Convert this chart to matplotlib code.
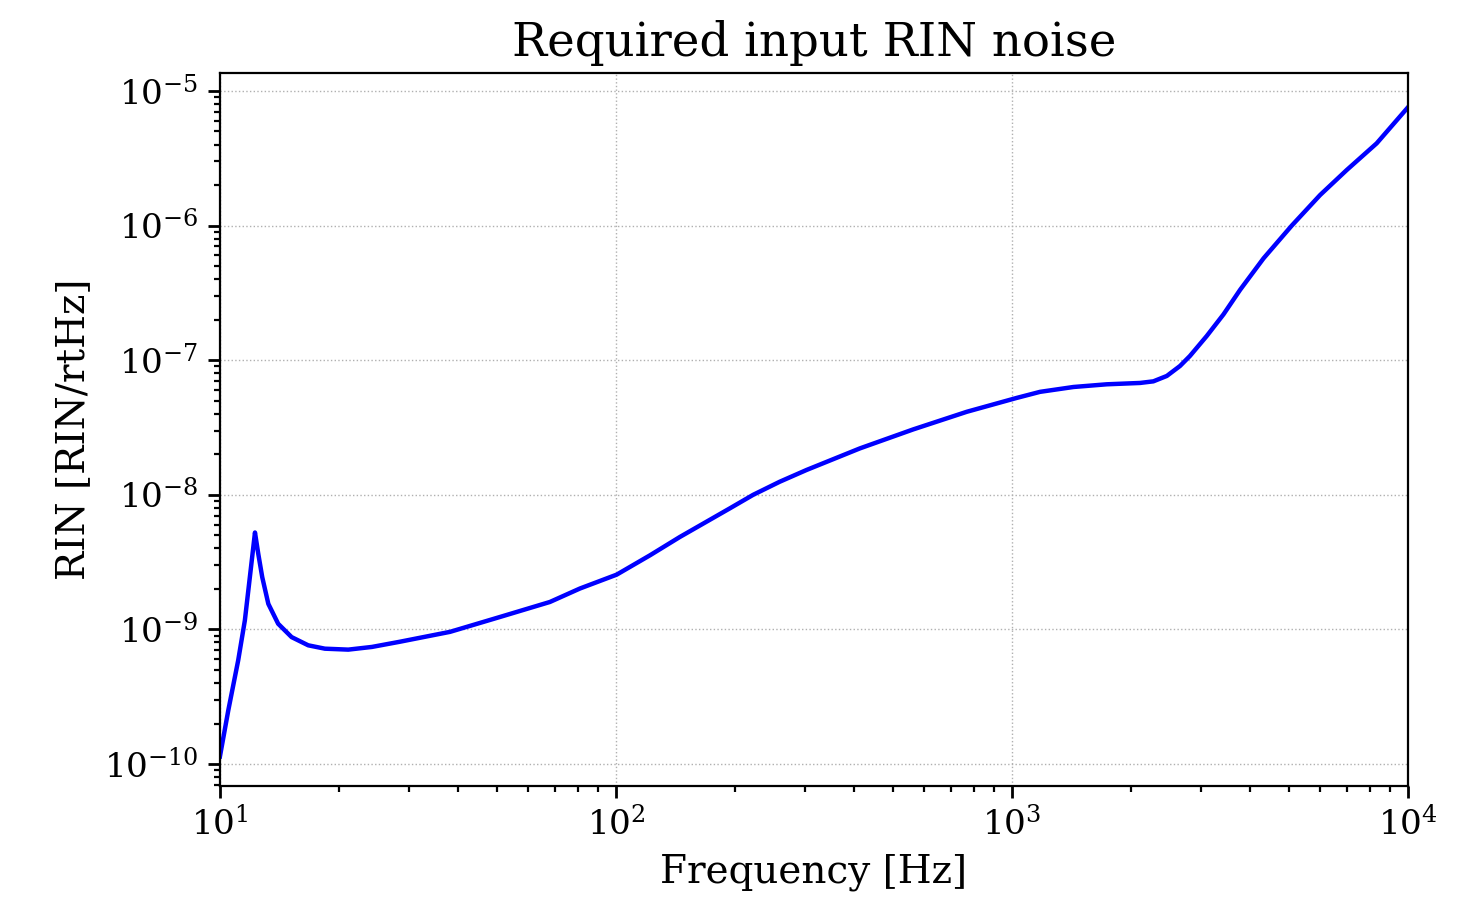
import matplotlib
matplotlib.use("Agg")
import matplotlib.pyplot as plt
import numpy as np

# values (frequency in Hz, log10 of RIN in 1/rtHz)
freq = [10.0, 10.5, 11.12, 11.56, 11.9, 12.14, 12.26, 12.5, 12.79, 13.25,
        14.03, 15.17, 16.71, 18.41, 21.09, 24.2, 28.4, 38.1, 51.0, 68.1,
        81.1, 100.4, 121.9, 145, 194, 222, 259, 303, 413, 563,
        769, 1028, 1177, 1429, 1734, 2104, 2274, 2459, 2655, 2812,
        3102, 3418, 3768, 4316, 5085, 5995, 7000, 8330, 10000]
rin_log = [-9.944, -9.60, -9.23, -8.933, -8.612, -8.39, -8.28, -8.44, -8.612, -8.81,
           -8.958, -9.057, -9.118, -9.143, -9.150, -9.13, -9.092, -9.018, -8.907, -8.796,
           -8.696, -8.593, -8.449, -8.313, -8.10, -8.0, -7.903, -7.815, -7.655, -7.514,
           -7.383, -7.28, -7.235, -7.199, -7.179, -7.169, -7.157, -7.117, -7.043, -6.969,
           -6.82, -6.66, -6.476, -6.243, -6.0, -5.773, -5.587, -5.389, -5.12]
rin = 10.0 ** np.array(rin_log)

plt.rcParams['font.family'] = 'DejaVu Serif'

fig = plt.figure(figsize=(7.38, 4.495), dpi=200)
ax = fig.add_axes([0.149, 0.1257, 0.805, 0.7931])

ax.loglog(freq, rin, color='blue', lw=1.6)

ax.set_xlim(10, 1e4)
ax.set_ylim(6.87e-11, 1.36e-5)
ax.grid(True, which='major', linestyle=':', linewidth=0.5, color='#b0b0b0')

ax.set_title("Required input RIN noise", fontsize=16.8)
ax.set_xlabel("Frequency [Hz]", fontsize=14)
ax.set_ylabel("RIN [RIN/rtHz]", fontsize=14)

ax.tick_params(axis='both', which='major', labelsize=12.3, length=4.3, width=1)
ax.tick_params(axis='both', which='minor', length=2.2, width=0.8)
ax.yaxis.set_minor_locator(matplotlib.ticker.LogLocator(base=10, subs=np.arange(2, 10), numticks=20))
ax.yaxis.set_minor_formatter(matplotlib.ticker.NullFormatter())
ax.xaxis.set_minor_formatter(matplotlib.ticker.NullFormatter())

fig.savefig("out.png", dpi=200)
